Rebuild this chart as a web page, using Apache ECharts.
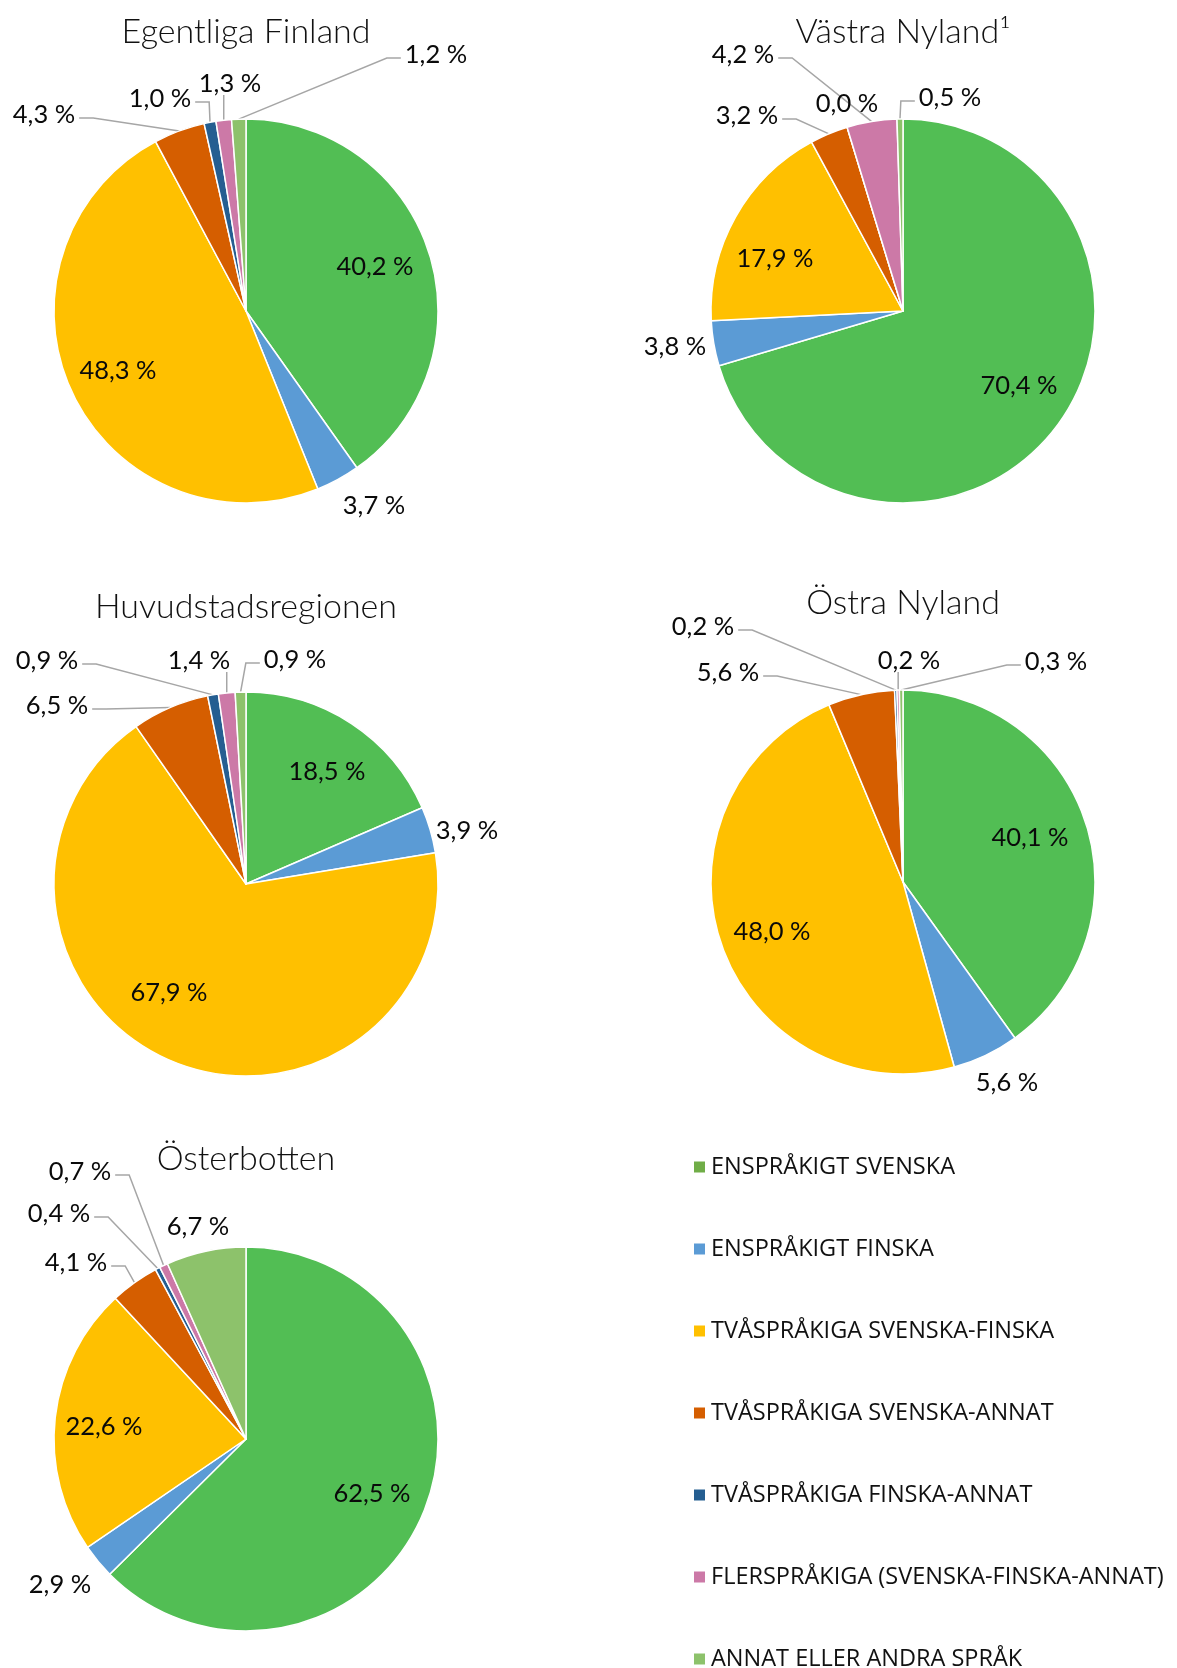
<!DOCTYPE html>
<html>
<head>
<meta charset="utf-8">
<script src="https://cdn.jsdelivr.net/npm/echarts@6/dist/echarts.min.js"></script>
<style>
  html, body { margin: 0; padding: 0; background: #fff; }
  #chart { width: 1177px; height: 1668px; }
</style>
</head>
<body>
<div id="chart"></div>
<script>
// language groups (legend order = slice order)
const categories = [
  'ENSPRÅKIGT SVENSKA',
  'ENSPRÅKIGT FINSKA',
  'TVÅSPRÅKIGA SVENSKA-FINSKA',
  'TVÅSPRÅKIGA SVENSKA-ANNAT',
  'TVÅSPRÅKIGA FINSKA-ANNAT',
  'FLERSPRÅKIGA (SVENSKA-FINSKA-ANNAT)',
  'ANNAT ELLER ANDRA SPRÅK'
];

const regions = ['Egentliga Finland', 'Västra Nyland¹', 'Huvudstadsregionen', 'Östra Nyland', 'Österbotten'];

// shares in percent
const egentligaFinland = [40.2, 3.7, 48.3, 4.3, 1.0, 1.3, 1.2];
const vastraNyland = [70.4, 3.8, 17.9, 3.2, 0.0, 4.2, 0.5];
const huvudstadsregionen = [18.5, 3.9, 67.9, 6.5, 0.9, 1.4, 0.9];
const ostraNyland = [40.1, 5.6, 48.0, 5.6, 0.2, 0.2, 0.3];
const osterbotten = [62.5, 2.9, 22.6, 4.1, 0.4, 0.7, 6.7];

const regionValues = [egentligaFinland, vastraNyland, huvudstadsregionen, ostraNyland, osterbotten];

const sliceColors = ['#52BE54', '#5B9BD5', '#FFC000', '#D55E00', '#255E91', '#CC79A7', '#8DC26B'];
const legendColors = ['#70AD47', '#5B9BD5', '#FFC000', '#D55E00', '#255E91', '#CC79A7', '#8DC26B'];

const RADIUS = 192;
const FONT = 'Lato, "Open Sans", sans-serif';

// where each pie sits and where Excel put its labels (offsets from the pie centre)
const pieLayout = [
  { center: [246, 311], titleY: 32,
    spots: [[129, -44], [128, 195], [-128, 60], [-202, -196], [-86, -212], [-16, -227], [190, -256]],
    lines: [0, 0, 0, 1, 1, 1, 1] },
  { center: [903, 311], titleY: 32,
    spots: [[116, 75], [-228, 36], [-128, -52], [-156, -195], [-56, -207], [-160, -256], [47, -213]],
    lines: [0, 0, 0, 1, 0, 1, 1] },
  { center: [246, 884], titleY: 607,
    spots: [[81, -112], [221, -53], [-77, 109], [-189, -178], [-199, -223], [-47, -223], [49, -224]],
    lines: [0, 0, 0, 1, 1, 1, 1] },
  { center: [903, 882], titleY: 603,
    spots: [[127, -44], [104, 201], [-131, 50], [-175, -209], [-200, -255], [6, -221], [153, -220]],
    lines: [0, 0, 0, 1, 1, 1, 1] },
  { center: [246, 1439], titleY: 1159,
    spots: [[126, 55], [-186, 146], [-142, -12], [-170, -176], [-187, -225], [-166, -267], [-48, -212]],
    lines: [0, 0, 0, 1, 1, 1, 0] }
];

function fmt(v) {
  return v.toFixed(1).replace('.', ',') + ' %';
}

function makeLabelLayout(lay) {
  return function (p) {
    const i = p.dataIndex;
    const x = lay.center[0] + lay.spots[i][0];
    const y = lay.center[1] + lay.spots[i][1];
    const out = { x: x, y: y, align: 'center', verticalAlign: 'middle' };
    const a = p.labelLinePoints && p.labelLinePoints[0];
    if (!lay.lines[i] || !a) return out;
    const w = p.labelRect.width;
    const h = p.labelRect.height;
    if (Math.abs(a[0] - x) < w / 2 + 6) {
      const b = [a[0], y + h / 2 - 2];
      out.labelLinePoints = [a, b, b];
    } else {
      const side = a[0] > x ? 1 : -1;
      const s = [x + side * (w / 2 + 4), y + 3];
      const e = [s[0] + side * 14, y + 3];
      out.labelLinePoints = [a, e, s];
    }
    return out;
  };
}

const series = regionValues.map(function (vals, k) {
  const lay = pieLayout[k];
  return {
    type: 'pie',
    center: lay.center,
    radius: RADIUS,
    startAngle: 90,
    clockwise: true,
    avoidLabelOverlap: false,
    silent: true,
    animation: false,
    itemStyle: { borderColor: '#fff', borderWidth: 1.5 },
    label: {
      show: true,
      position: 'outside',
      color: '#0a0a0a',
      fontFamily: FONT,
      fontSize: 25.5,
      formatter: function (p) { return fmt(p.value); }
    },
    labelLine: { show: true, length: 10, length2: 10, lineStyle: { color: '#A6A6A6', width: 1.5 } },
    labelLayout: makeLabelLayout(lay),
    data: vals.map(function (v, i) {
      return {
        name: categories[i],
        value: v,
        itemStyle: { color: sliceColors[i] },
        labelLine: { show: !!lay.lines[i] }
      };
    })
  };
});

const chart = echarts.init(document.getElementById('chart'), null, { renderer: 'canvas' });

chart.setOption({
  backgroundColor: '#fff',
  animation: false,
  title: regions.map(function (t, k) {
    return {
      text: t,
      left: pieLayout[k].center[0],
      top: pieLayout[k].titleY,
      textAlign: 'center',
      textVerticalAlign: 'middle',
      padding: 0,
      textStyle: { fontFamily: FONT, fontWeight: 300, fontSize: 34, color: '#111' }
    };
  }),
  legend: {
    orient: 'vertical',
    left: 692,
    top: 1155,
    height: 700,
    padding: 0,
    icon: 'rect',
    itemWidth: 13,
    itemHeight: 13,
    itemGap: 58,
    selectedMode: false,
    textStyle: { fontFamily: '"Open Sans", sans-serif', fontSize: 23.5, lineHeight: 22, color: '#111' },
    data: categories.map(function (c, i) {
      return { name: c, itemStyle: { color: legendColors[i] } };
    })
  },
  series: series
});
</script>
</body>
</html>
